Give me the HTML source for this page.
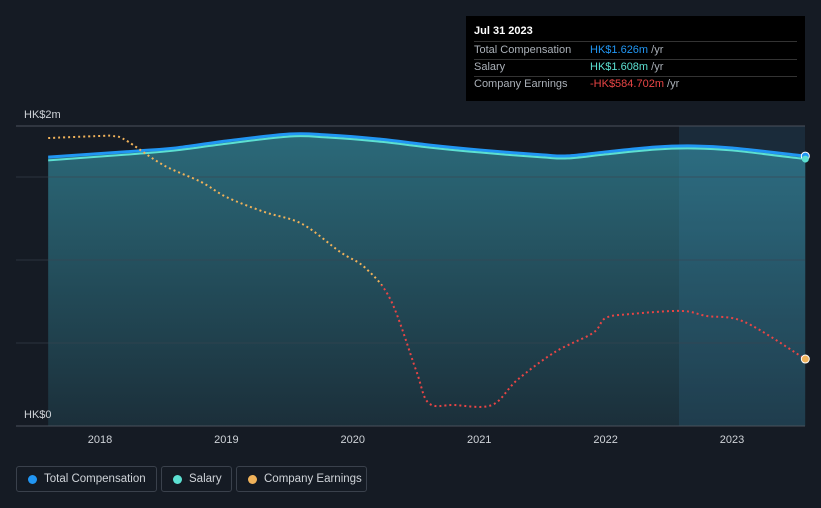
<!DOCTYPE html>
<html><head><meta charset="utf-8">
<style>
html,body{margin:0;height:508px}
body{background:#151b24;font-family:"Liberation Sans",sans-serif;width:821px;height:508px;overflow:hidden;position:relative}
svg{position:absolute;left:0;top:0}
.tip{position:absolute;left:466px;top:16px;width:339px;height:85px;background:#000;color:#fff;font-size:11px}
.row{position:absolute;left:8px;color:#aab0b8}
.val{position:absolute;left:124px}
.leg{position:absolute;top:466px;height:26px;border:1px solid #3a414c;border-radius:3px;color:#cfd3d8;font-size:11.5px;line-height:24px;box-sizing:border-box;padding-left:27px;white-space:nowrap}
.leg i{position:absolute;left:11px;top:8px;width:9px;height:9px;border-radius:50%}
</style></head><body>
<svg width="821" height="508">
<defs><linearGradient id="g" x1="0" y1="0" x2="0" y2="1"><stop offset="0" stop-color="#2b6a7a"/><stop offset="1" stop-color="#1b2f3a"/></linearGradient></defs>
<g id="plot"></g>
</svg>
<div class="tip">
<div style="position:absolute;left:8px;top:9px;font-weight:bold;font-size:11px">Jul 31 2023</div>
<div style="position:absolute;left:8px;right:8px;top:25px;border-top:1px solid #333"></div>
<div class="row" style="top:28px">Total Compensation</div><div class="val" style="top:28px;color:#2196f3">HK$1.626m <span style="color:#aab0b8">/yr</span></div>
<div style="position:absolute;left:8px;right:8px;top:43px;border-top:1px solid #333"></div>
<div class="row" style="top:45px">Salary</div><div class="val" style="top:45px;color:#5ce0d2">HK$1.608m <span style="color:#aab0b8">/yr</span></div>
<div style="position:absolute;left:8px;right:8px;top:60px;border-top:1px solid #333"></div>
<div class="row" style="top:62px">Company Earnings</div><div class="val" style="top:62px;color:#e84545">-HK$584.702m <span style="color:#aab0b8">/yr</span></div>
</div>
<div class="leg" style="left:16px;width:141px"><i style="background:#2196f3"></i>Total Compensation</div>
<div class="leg" style="left:161px;width:71px"><i style="background:#5ce0d2"></i>Salary</div>
<div class="leg" style="left:236px;width:131px"><i style="background:#f0b25a"></i>Company Earnings</div>
<script>
const years=[2018,2019,2020,2021,2022,2023];
const tcX=[2017.59,2018.3,2018.6,2019.0,2019.5,2019.8,2020.2,2020.6,2021.0,2021.5,2021.7,2022.0,2022.4,2022.7,2023.0,2023.58];
const tcV=[1.62,1.657,1.675,1.717,1.759,1.753,1.729,1.693,1.663,1.633,1.627,1.651,1.681,1.687,1.675,1.626];
const salV=[1.60,1.64,1.66,1.70,1.744,1.738,1.714,1.678,1.648,1.618,1.612,1.636,1.666,1.672,1.660,1.608];
const eX=[2017.59,2018.0,2018.1,2018.2,2018.5,2018.8,2019.0,2019.3,2019.6,2019.9,2020.1,2020.3,2020.5,2020.6,2020.8,2021.1,2021.3,2021.6,2021.9,2022.0,2022.2,2022.6,2022.8,2023.1,2023.58];
const eV=[1161,1177,1177,1146,948,814,695,577,482,261,134,-119,-672,-932,-948,-948,-751,-529,-379,-261,-229,-205,-245,-292,-585];
const NS='http://www.w3.org/2000/svg';
const xS=t=>100+(t-2018)*126.4;
const yS=v=>426-v*166;
const eS=v=>285-v*0.1266;
const g=document.getElementById('plot');
function mk(tag,attrs){const e=document.createElementNS(NS,tag);for(const k in attrs)e.setAttribute(k,attrs[k]);g.appendChild(e);return e;}
function smooth(pts){let d='M'+pts[0][0]+','+pts[0][1];for(let i=1;i<pts.length;i++){const p0=pts[i-2]||pts[i-1],p1=pts[i-1],p2=pts[i],p3=pts[i+1]||p2;d+=' C'+(p1[0]+(p2[0]-p0[0])/6)+','+(p1[1]+(p2[1]-p0[1])/6)+' '+(p2[0]-(p3[0]-p1[0])/6)+','+(p2[1]-(p3[1]-p1[1])/6)+' '+p2[0]+','+p2[1];}return d;}
const tc=tcX.map((t,i)=>[xS(t),yS(tcV[i])]);
const sal=tcX.map((t,i)=>[xS(t),yS(salV[i])]);
let a=mk('path',{d:smooth(tc)+' L'+xS(2023.58)+',426 L'+xS(2017.59)+',426 Z',fill:'url(#g)'});

let f=mk('rect',{x:679,y:126,width:126,height:300,fill:'#3a8fbf',opacity:0.15});

[0.5,1.0,1.5].forEach(v=>{let l=mk('line',{x1:16,x2:805,y1:yS(v),y2:yS(v),stroke:'#3a4450','stroke-width':1,opacity:0.6});});
let tl=mk('line',{x1:16,x2:805,y1:126,y2:126,stroke:'#4a525c'});
let bl=mk('line',{x1:16,x2:805,y1:426,y2:426,stroke:'#4a525c'});
years.forEach(y=>{let t=mk('text',{x:xS(y),y:443,fill:'#cfd3d8','font-size':11,'text-anchor':'middle'});t.textContent=y;});
let l1=mk('text',{x:24,y:118,fill:'#cfd3d8','font-size':11});l1.textContent='HK$2m';
let l0=mk('text',{x:24,y:418,fill:'#cfd3d8','font-size':11});l0.textContent='HK$0';
let tcl=mk('path',{d:smooth(tc),fill:'none',stroke:'#2196f3','stroke-width':3});
let sl=mk('path',{d:smooth(sal),fill:'none',stroke:'#5ce0d2','stroke-width':2});
const ep=eX.map((t,i)=>[xS(t),eS(eV[i])]);
const ed=smooth(ep);
const cpc=mk('clipPath',{id:'cpos'});const r1=document.createElementNS(NS,'rect');r1.setAttribute('x',0);r1.setAttribute('y',0);r1.setAttribute('width',821);r1.setAttribute('height',eS(0));cpc.appendChild(r1);
const cn=mk('clipPath',{id:'cneg'});const r2=document.createElementNS(NS,'rect');r2.setAttribute('x',0);r2.setAttribute('y',eS(0));r2.setAttribute('width',821);r2.setAttribute('height',508);cn.appendChild(r2);
let ea=mk('path',{d:ed,fill:'none',stroke:'#f0b25a','stroke-width':2,'stroke-dasharray':'2,3','clip-path':'url(#cpos)'});
let eb=mk('path',{d:ed,fill:'none',stroke:'#e84545','stroke-width':2,'stroke-dasharray':'2,3','clip-path':'url(#cneg)'});
let d1=mk('circle',{cx:tc[tc.length-1][0],cy:tc[tc.length-1][1],r:4,fill:'#2196f3',stroke:'#fff','stroke-width':1});
let d2=mk('circle',{cx:sal[sal.length-1][0],cy:sal[sal.length-1][1],r:3.5,fill:'#5ce0d2'});
let d3=mk('circle',{cx:ep[ep.length-1][0],cy:ep[ep.length-1][1],r:4,fill:'#f0b25a',stroke:'#fff','stroke-width':1});
</script>
</body></html>
